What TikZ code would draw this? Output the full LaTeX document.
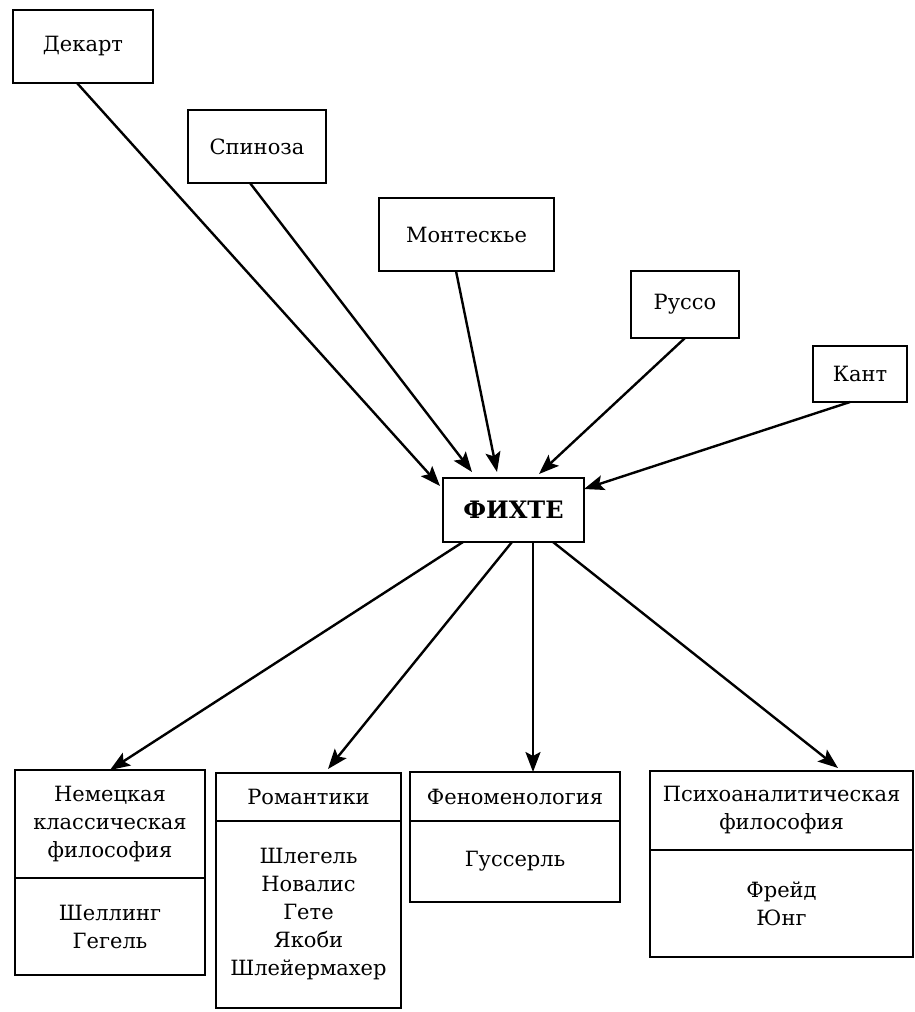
\documentclass[tikz,border=0pt]{standalone}
\usepackage{fontspec}
\setmainfont{DejaVu Serif}
\usepackage{tikz}
\usetikzlibrary{arrows.meta, positioning}

\begin{document}
\begin{tikzpicture}[x=1pt, y=-1pt,
		box/.style={shape=rectangle, draw, line width=2.2pt, inner sep=0pt, outer sep=0pt, align=center, font=\fontsize{21}{28}\selectfont},
		link/.style={line width=2.4pt, -{Stealth[length=20pt, width=15pt, inset=4pt]}}]
			\useasboundingbox (0, 0) rectangle (914, 1012);
			% Predecessors:
			\node[box, minimum width=140pt, minimum height=73pt] (dekart) at (83, 46.5){Декарт};
			\node[box, minimum width=138pt, minimum height=73pt] (spinoza) at (257, 146.5){Спиноза};
			\node[box, minimum width=175pt, minimum height=73pt] (montesq) at (466.5, 234.5){Монтескье};
			\node[box, minimum width=108pt, minimum height=67pt] (russo) at (685, 304.5){Руссо};
			\node[box, minimum width=94pt, minimum height=56pt] (kant) at (860, 374){Кант};
			% Centre:
			\node[box, minimum width=141pt, minimum height=64pt, font=\fontsize{24}{28}\selectfont\bfseries] (fichte) at (513.5, 510){ФИХТЕ};
			% Successors (head and body):
			\node[box, minimum width=190pt, minimum height=108pt] (nemhead) at (110, 824){Немецкая\\классическая\\философия};
			\node[box, minimum width=190pt, minimum height=97pt, below=0pt of nemhead] (nembody){Шеллинг\\Гегель};
			\node[box, minimum width=185pt, minimum height=48pt] (romhead) at (308.5, 797){Романтики};
			\node[box, minimum width=185pt, minimum height=187pt, below=0pt of romhead] (rombody){Шлегель\\Новалис\\Гете\\Якоби\\Шлейермахер};
			\node[box, minimum width=210pt, minimum height=49pt] (phenhead) at (515, 796.5){Феноменология};
			\node[box, minimum width=210pt, minimum height=81pt, below=0pt of phenhead] (phenbody){Гуссерль};
			\node[box, minimum width=263pt, minimum height=79pt] (psyhead) at (781.5, 810.5){Психоаналитическая\\философия};
			\node[box, minimum width=263pt, minimum height=107pt, below=0pt of psyhead] (psybody){Фрейд\\Юнг};
			% Influences:
			\draw[link] ([xshift=-6pt]dekart.south) -- ([xshift=-3pt, yshift=-8pt]fichte.north west);
			\draw[link] ([xshift=-7pt]spinoza.south) -- ([xshift=-41.5pt, yshift=6pt]fichte.north);
			\draw[link] ([xshift=-10.5pt]montesq.south) -- ([xshift=-16.5pt, yshift=6pt]fichte.north);
			\draw[link] (russo.south) -- ([xshift=25.5pt, yshift=4pt]fichte.north);
			\draw[link] ([xshift=-10pt]kant.south) -- ([yshift=-11pt]fichte.north east);
			\draw[link] ([xshift=-50.5pt]fichte.south) -- (nemhead.north);
			\draw[link] ([xshift=-1.5pt]fichte.south) -- ([xshift=19.5pt, yshift=4pt]romhead.north);
			\draw[link] ([xshift=19.5pt]fichte.south) -- ([xshift=18pt]phenhead.north);
			\draw[link] ([xshift=39.5pt]fichte.south) -- ([xshift=56.5pt, yshift=3pt]psyhead.north);
		\end{tikzpicture}
\end{document}
